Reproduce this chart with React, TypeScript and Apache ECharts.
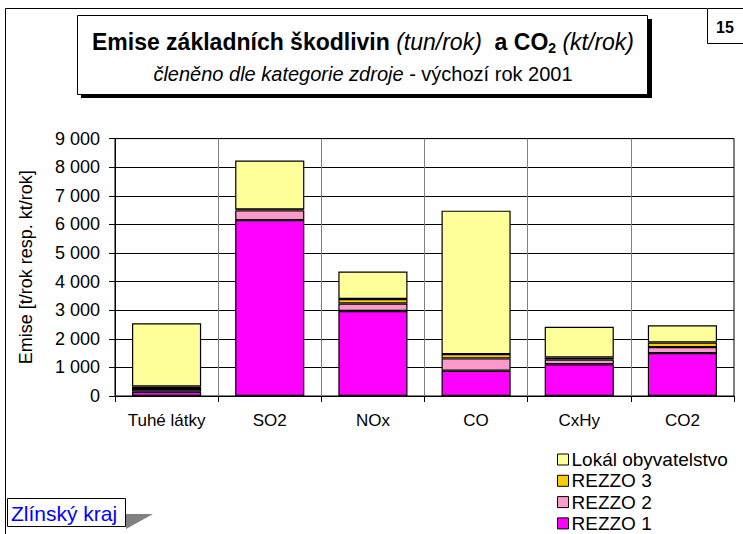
import React, { useEffect, useRef } from "react";
import * as echarts from "echarts";

const categories = ["Tuhé látky", "SO2", "NOx", "CO", "CxHy", "CO2"];
const rezzo1 = [150, 6150, 2970, 885, 1110, 1500];
const rezzo2 = [95, 340, 265, 430, 165, 210];
const rezzo3 = [85, 30, 155, 150, 70, 160];
const lokal = [2210, 1710, 960, 5015, 1075, 600];
const yTickLabels = ["0", "1 000", "2 000", "3 000", "4 000", "5 000", "6 000", "7 000", "8 000", "9 000"];
const legendOrder = ["Lokál obyvatelstvo", "REZZO 3", "REZZO 2", "REZZO 1"];

const FONT = "Liberation Sans, Arial, sans-serif";

export default function App() {
  const ref = useRef<HTMLDivElement>(null);
  useEffect(() => {
    if (!ref.current) return;
    const chart = echarts.init(ref.current, null, { renderer: "svg" });
    const mk = (name: string, data: number[], color: string) => ({
      name,
      type: "bar",
      stack: "total",
      data,
      barCategoryGap: "33%",
      itemStyle: { color, borderColor: "#000", borderWidth: 1.2 },
    });
    chart.setOption({
      animation: false,
      backgroundColor: "#fff",
      textStyle: { fontFamily: FONT },
      grid: {
        left: 115,
        right: 9,
        top: 138.6,
        bottom: 138,
        show: true,
        borderColor: "#000",
        borderWidth: 1,
      },
      xAxis: {
        type: "category",
        data: categories,
        axisLine: { lineStyle: { color: "#000", width: 1 } },
        axisTick: { show: true, length: 6, interval: 0, lineStyle: { color: "#000" } },
        axisLabel: { color: "#000", fontSize: 17, fontFamily: FONT, margin: 16 },
        splitLine: { show: true, interval: 0, lineStyle: { color: "#808080", width: 1 } },
      },
      yAxis: {
        type: "value",
        min: 0,
        max: 9000,
        interval: 1000,
        name: "Emise [t/rok resp. kt/rok]",
        nameLocation: "middle",
        nameGap: 80,
        nameTextStyle: { color: "#000", fontSize: 18, fontFamily: FONT },
        axisLine: { show: true, lineStyle: { color: "#000", width: 1 } },
        axisTick: { show: true, length: 6, lineStyle: { color: "#000" } },
        axisLabel: {
          color: "#000",
          fontSize: 18,
          fontFamily: FONT,
          margin: 15,
          formatter: (v: number) => yTickLabels[Math.round(v / 1000)] ?? "",
        },
        splitLine: { show: true, lineStyle: { color: "#000", width: 1 } },
      },
      legend: {
        orient: "vertical",
        left: 557,
        top: 450,
        height: 84,
        data: legendOrder,
        itemWidth: 11,
        itemHeight: 11,
        itemGap: 2.3,
        padding: 0,
        icon: "rect",
        textStyle: { color: "#000", fontSize: 19, lineHeight: 19, fontFamily: FONT, padding: [0, 0, 0, -2] },
        itemStyle: { borderColor: "#000", borderWidth: 1 },
      },
      series: [
        mk("REZZO 1", rezzo1, "#FF00FF"),
        mk("REZZO 2", rezzo2, "#FF99CC"),
        mk("REZZO 3", rezzo3, "#FFCC00"),
        mk("Lokál obyvatelstvo", lokal, "#FFFF99"),
      ],
      graphic: [
        { type: "line", shape: { x1: 5.5, y1: 8.5, x2: 707, y2: 8.5 }, style: { stroke: "#000", lineWidth: 1 } },
        { type: "line", shape: { x1: 5.5, y1: 8.5, x2: 5.5, y2: 534 }, style: { stroke: "#000", lineWidth: 1 } },
        { type: "rect", shape: { x: 707.5, y: 8.5, width: 36, height: 35 }, style: { fill: "#fff", stroke: "#000", lineWidth: 1 } },
        {
          type: "text",
          style: { x: 725, y: 27, text: "15", align: "center", verticalAlign: "middle", font: `bold 16px ${FONT}`, fill: "#000" },
        },
        { type: "rect", shape: { x: 81, y: 19, width: 571, height: 79 }, style: { fill: "#000" } },
        { type: "rect", shape: { x: 77.5, y: 15.5, width: 570, height: 79 }, style: { fill: "#fff", stroke: "#000", lineWidth: 1 } },
        {
          type: "text",
          style: {
            x: 363,
            y: 42,
            align: "center",
            verticalAlign: "middle",
            text: "{b|Emise základních škodlivin }{i|(tun/rok)}{b|  a CO}{sub|2}{i| (kt/rok)}",
            rich: {
              b: { fontSize: 23, fontWeight: "bold", fontFamily: FONT, fill: "#000", lineHeight: 26 },
              i: { fontSize: 23, fontStyle: "italic", fontFamily: FONT, fill: "#000", lineHeight: 26 },
              sub: { fontSize: 14, fontWeight: "bold", fontFamily: FONT, fill: "#000", lineHeight: 14, verticalAlign: "bottom", padding: [9, 0, 0, 0] },
            },
          },
        },
        {
          type: "text",
          style: {
            x: 363,
            y: 74,
            align: "center",
            verticalAlign: "middle",
            text: "{i|členěno dle kategorie zdroje}{n| - výchozí rok 2001}",
            rich: {
              i: { fontSize: 20, fontStyle: "italic", fontFamily: FONT, fill: "#000" },
              n: { fontSize: 20, fontFamily: FONT, fill: "#000" },
            },
          },
        },
        { type: "polygon", shape: { points: [[126, 514], [153, 514], [126, 529]] }, style: { fill: "#808080" } },
        { type: "rect", shape: { x: 7.5, y: 498.5, width: 118, height: 28 }, style: { fill: "#fff", stroke: "#000", lineWidth: 1 } },
        {
          type: "text",
          style: { x: 11, y: 513, text: "Zlínský kraj", align: "left", verticalAlign: "middle", font: `21px ${FONT}`, fill: "#0000FF" },
        },
      ],
    });
    return () => chart.dispose();
  }, []);
  return <div ref={ref} style={{ position: "fixed", left: 0, top: 0, width: 743, height: 534 }} />;
}
